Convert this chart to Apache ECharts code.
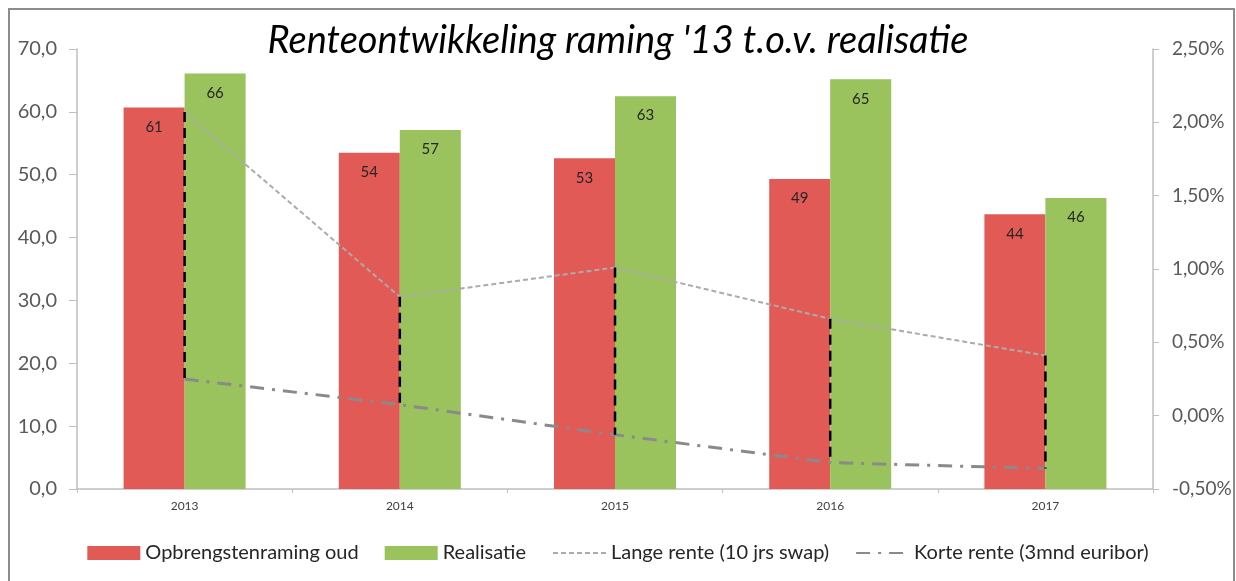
<!DOCTYPE html>
<html>
<head>
<meta charset="utf-8">
<script src="https://cdn.jsdelivr.net/npm/echarts@6/dist/echarts.min.js"></script>
<style>
  html, body { margin: 0; padding: 0; background: #fff; }
  #chart { width: 1236px; height: 581px; }
</style>
</head>
<body>
<div id="chart"></div>
<script>
// data
const years = ['2013', '2014', '2015', '2016', '2017']
const raming = [60.7, 53.5, 52.6, 49.3, 43.7]
const realisatie = [66.1, 57.1, 62.5, 65.2, 46.3]
const langeRente = [2.07, 0.81, 1.01, 0.66, 0.41]
const korteRente = [0.25, 0.075, -0.13, -0.32, -0.36]
const seriesNames = ['Opbrengstenraming oud', 'Realisatie', 'Lange rente (10 jrs swap)', 'Korte rente (3mnd euribor)']

const colors = ['#E15A56', '#9AC25D', '#ABABAB', '#8A8A8A']
const font = 'Lato, "Open Sans", sans-serif'

const myChart = echarts.init(document.getElementById('chart'))

const option = {
    color: colors,
    textStyle: { fontFamily: font },
    graphic: [{
        type: 'rect',
        shape: { x: 9, y: 9, width: 1225, height: 590 },
        style: { fill: 'none', stroke: '#8C8C8C', lineWidth: 2 },
        silent: true
    }],
    title: {
        text: "Renteontwikkeling raming '13 t.o.v. realisatie",
        left: 'center',
        top: 17,
        textStyle: {
            fontFamily: font,
            fontStyle: 'italic',
            fontWeight: 'normal',
            fontSize: 38,
            color: '#000'
        }
    },
    grid: {
        left: 77,
        right: 83,
        top: 49,
        bottom: 92
    },
    legend: {
        bottom: 13,
        left: 'center',
        itemWidth: 53,
        itemHeight: 14,
        itemGap: 26,
        textStyle: { fontSize: 20, color: '#262626', fontFamily: font },
        data: [
            { name: seriesNames[0], icon: 'rect' },
            { name: seriesNames[1], icon: 'rect' },
            { name: seriesNames[2], itemStyle: { opacity: 0 } },
            { name: seriesNames[3], itemStyle: { opacity: 0 } }
        ]
    },
    xAxis: {
        type: 'category',
        data: years,
        axisLine: { lineStyle: { color: '#BFBFBF', width: 1.5 } },
        axisTick: { show: true, length: 4, lineStyle: { color: '#BFBFBF' } },
        axisLabel: { color: '#404040', fontSize: 12, margin: 11 }
    },
    yAxis: [
        {
            type: 'value',
            min: 0,
            max: 70,
            interval: 10,
            axisLine: { show: true, lineStyle: { color: '#BFBFBF', width: 1.5 } },
            axisTick: { show: true, length: 8, lineStyle: { color: '#BFBFBF' } },
            splitLine: { show: false },
            axisLabel: {
                color: '#595959',
                fontSize: 20,
                margin: 20,
                formatter: v => v.toFixed(1).replace('.', ',')
            }
        },
        {
            type: 'value',
            min: -0.5,
            max: 2.5,
            interval: 0.5,
            axisLine: { show: true, lineStyle: { color: '#BFBFBF', width: 1.5 } },
            axisTick: { show: true, length: 6, lineStyle: { color: '#BFBFBF' } },
            splitLine: { show: false },
            axisLabel: {
                color: '#595959',
                fontSize: 19,
                margin: 19,
                formatter: v => v.toFixed(2).replace('.', ',') + '%'
            }
        }
    ],
    series: [
        {
            name: seriesNames[0],
            type: 'bar',
            barWidth: 61,
            barGap: '0%',
            itemStyle: { color: colors[0] },
            label: {
                show: true,
                position: 'insideTop',
                distance: 12,
                fontSize: 15,
                color: '#262626',
                formatter: p => Math.round(p.value)
            },
            data: raming
        },
        {
            name: seriesNames[1],
            type: 'bar',
            barWidth: 61,
            barGap: '0%',
            itemStyle: { color: colors[1] },
            label: {
                show: true,
                position: 'insideTop',
                distance: 12,
                fontSize: 15,
                color: '#262626',
                formatter: p => Math.round(p.value)
            },
            data: realisatie
        },
        {
            name: seriesNames[2],
            type: 'line',
            yAxisIndex: 1,
            symbol: 'none',
            z: 3,
            lineStyle: { color: colors[2], width: 2, type: [5, 3] },
            itemStyle: { color: colors[2] },
            data: langeRente
        },
        {
            name: seriesNames[3],
            type: 'line',
            yAxisIndex: 1,
            symbol: 'none',
            z: 3,
            lineStyle: { color: colors[3], width: 3, type: [14, 8, 3, 8] },
            itemStyle: { color: colors[3] },
            data: korteRente
        },
        {
            // high-low lines between long and short rate
            name: 'hoog-laag',
            type: 'custom',
            yAxisIndex: 1,
            z: 4,
            silent: true,
            renderItem: (params, api) => {
                const top = api.coord([api.value(0), api.value(1)])
                const bottom = api.coord([api.value(0), api.value(2)])
                return {
                    type: 'line',
                    shape: { x1: top[0], y1: top[1], x2: bottom[0], y2: bottom[1] },
                    style: { stroke: '#000', lineWidth: 2.5, lineDash: [10, 6] }
                }
            },
            data: years.map((y, i) => [i, langeRente[i], korteRente[i]])
        }
    ]
}

myChart.setOption(option)
</script>
</body>
</html>
